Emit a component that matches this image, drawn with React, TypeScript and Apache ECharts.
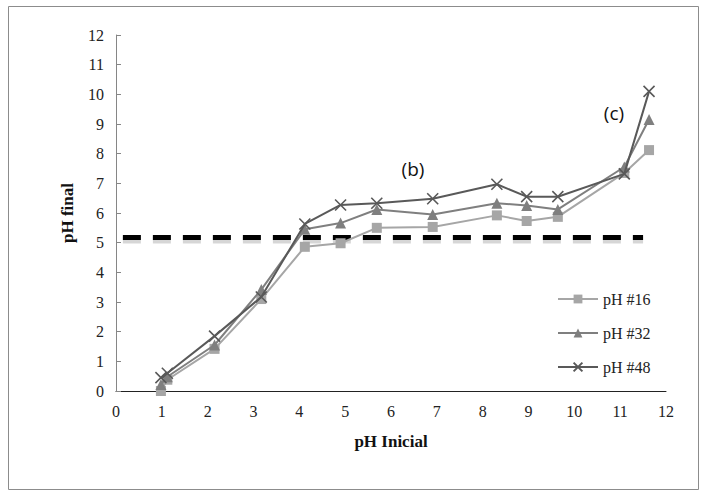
import React, { useEffect, useRef } from "react";
import * as echarts from "echarts";

const phInicial = [0.98, 1.12, 2.15, 3.17, 4.12, 4.9, 5.69, 6.91, 8.31, 8.96, 9.64, 11.09, 11.63];
const ph16 = [0.0, 0.38, 1.42, 3.1, 4.86, 4.98, 5.5, 5.53, 5.92, 5.73, 5.87, 7.35, 8.12];
const ph32 = [0.22, 0.48, 1.55, 3.42, 5.45, 5.66, 6.12, 5.95, 6.33, 6.25, 6.12, 7.55, 9.15];
const ph48 = [0.45, 0.6, 1.85, 3.17, 5.63, 6.27, 6.33, 6.48, 6.97, 6.55, 6.55, 7.32, 10.1];
const refLineX = [0.15, 11.5];
const refLineY = 5.17;
const xTicks = { min: 0, max: 12, interval: 1 };
const yTicks = { min: 0, max: 12, interval: 1 };
const seriesNames = ["pH #16", "pH #32", "pH #48"];

const pair = (ys: number[]) => phInicial.map((x, i) => [x, ys[i]]);

export default function App() {
  const ref = useRef<HTMLDivElement>(null);
  useEffect(() => {
    if (!ref.current) return;
    const chart = echarts.init(ref.current, null, { renderer: "svg" });
    const serif = "Liberation Serif";
    chart.setOption({
      animation: false,
      backgroundColor: "#ffffff",
      grid: { left: 116, right: 39, top: 35, bottom: 101 },
      legend: {
        orient: "vertical",
        left: 552,
        top: 286,
        itemWidth: 40,
        itemHeight: 11,
        itemGap: 18,
        data: seriesNames,
        textStyle: { fontFamily: serif, fontSize: 16, color: "#222" },
      },
      xAxis: {
        type: "value",
        ...xTicks,
        name: "pH Inicial",
        nameLocation: "middle",
        nameGap: 42,
        nameTextStyle: { fontFamily: serif, fontSize: 17, fontWeight: "bold", color: "#111" },
        axisLine: { show: true, lineStyle: { color: "#222", width: 1 } },
        axisTick: { show: false },
        splitLine: { show: false },
        axisLabel: { fontFamily: serif, fontSize: 16, color: "#222", margin: 12 },
      },
      yAxis: {
        type: "value",
        ...yTicks,
        name: "pH final",
        nameLocation: "middle",
        nameGap: 40,
        nameTextStyle: { fontFamily: serif, fontSize: 17, fontWeight: "bold", color: "#111" },
        axisLine: { show: true, lineStyle: { color: "#868686", width: 1 } },
        axisTick: { show: true, inside: true, length: 5, lineStyle: { color: "#868686" } },
        splitLine: { show: false },
        axisLabel: { fontFamily: serif, fontSize: 16, color: "#222", margin: 12 },
      },
      graphic: [
        {
          type: "rect",
          shape: { x: 8.5, y: 6.5, width: 690, height: 483 },
          style: { fill: "none", stroke: "#8c8c8c", lineWidth: 1 },
          z: -1,
        },
        {
          type: "text",
          x: 413,
          y: 169,
          style: {
            text: "(b)",
            font: "19px 'Open Sans', 'Liberation Sans', sans-serif",
            fill: "#111",
            textAlign: "center",
            textVerticalAlign: "middle",
          },
        },
        {
          type: "text",
          x: 614,
          y: 113,
          style: {
            text: "(c)",
            font: "19px 'Open Sans', 'Liberation Sans', sans-serif",
            fill: "#111",
            textAlign: "center",
            textVerticalAlign: "middle",
          },
        },
      ],
      series: [
        {
          name: "refShadow",
          type: "line",
          data: refLineX.map((x) => [x, refLineY - 0.08]),
          symbol: "none",
          silent: true,
          lineStyle: { color: "rgba(0,0,0,0.16)", width: 7, type: [18, 12] },
          z: 1,
        },
        {
          name: "ref",
          type: "line",
          data: refLineX.map((x) => [x, refLineY]),
          symbol: "none",
          silent: true,
          lineStyle: { color: "#000", width: 5, type: [18, 12] },
          z: 1,
        },
        {
          name: seriesNames[0],
          type: "line",
          data: pair(ph16),
          symbol: "rect",
          symbolSize: 10,
          lineStyle: { color: "#a6a6a6", width: 2 },
          itemStyle: { color: "#a6a6a6" },
          z: 2,
        },
        {
          name: seriesNames[1],
          type: "line",
          data: pair(ph32),
          symbol: "triangle",
          symbolSize: 11,
          lineStyle: { color: "#7f7f7f", width: 2 },
          itemStyle: { color: "#7f7f7f" },
          z: 3,
        },
        {
          name: seriesNames[2],
          type: "line",
          data: pair(ph48),
          symbol: "path://M0,0L10,10M10,0L0,10",
          symbolSize: 11,
          lineStyle: { color: "#595959", width: 2 },
          itemStyle: { color: "#595959", borderColor: "#595959", borderWidth: 1.6 },
          z: 4,
        },
      ],
    });
    return () => chart.dispose();
  }, []);
  return (
    <div
      ref={ref}
      style={{ position: "fixed", left: 0, top: 0, width: 705, height: 492 }}
    />
  );
}
